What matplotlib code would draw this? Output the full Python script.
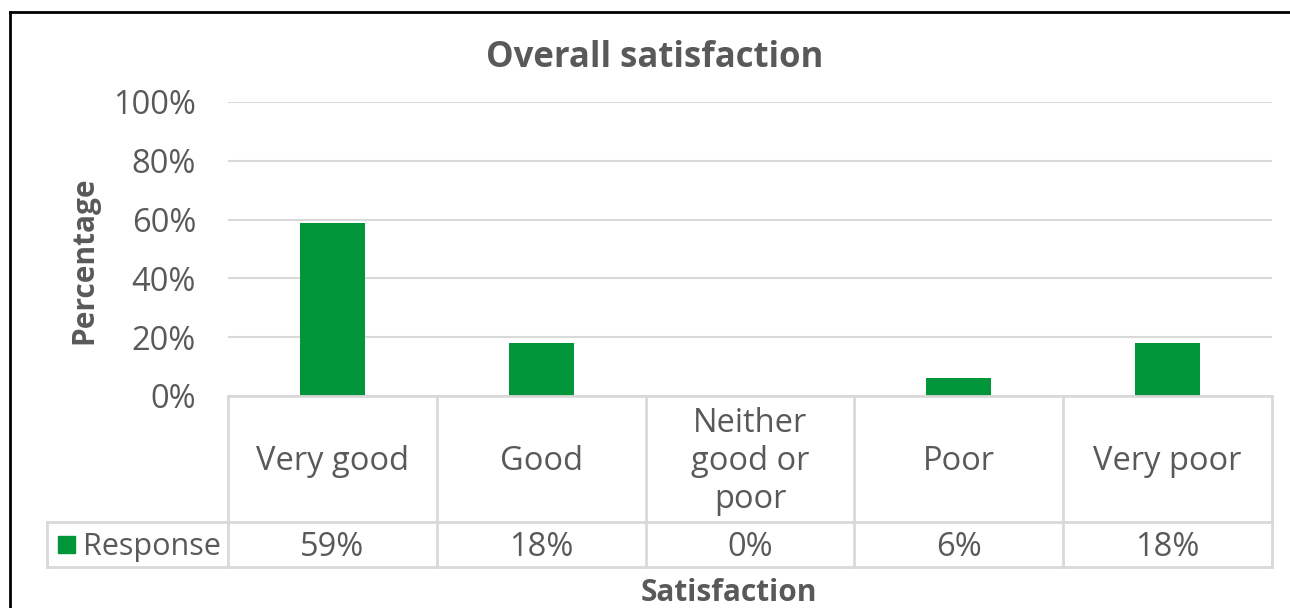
import matplotlib
matplotlib.use("Agg")
import matplotlib.pyplot as plt
import matplotlib.transforms as mtrans
from matplotlib.lines import Line2D
from matplotlib.patches import Rectangle

categories = ["Very good", "Good", "Neither\ngood or\npoor", "Poor", "Very poor"]
response = [59, 18, 0, 6, 18]
series_name = "Response"
yticks = [0, 20, 40, 60, 80, 100]

GREEN = "#009639"
TEXT = "#595959"
GRID = "#d9d9d9"

W, H = 1290, 608
plt.rcParams["font.family"] = ["Open Sans", "DejaVu Sans"]

fig = plt.figure(figsize=(W / 100, H / 100), dpi=100)


def fx(px):
    return px / W


def fy(py):
    return 1 - py / H


# plot area in pixel terms
left, right, top, base = 228, 1272, 102, 396
ax = fig.add_axes([fx(left), fy(base), fx(right - left), (base - top) / H])

x = list(range(len(categories)))
ax.bar(x, response, width=0.31, color=GREEN, zorder=3)
ax.set_xlim(-0.5, len(categories) - 0.5)
ax.set_ylim(0, 100)
ax.set_yticks(yticks)
ax.set_yticklabels([f"{v}%" for v in yticks])
ax.tick_params(axis="y", length=0, pad=23, labelsize=23.5, labelcolor=TEXT)
ax.set_xticks([])
ax.yaxis.grid(True, color=GRID, linewidth=1.5, zorder=0)
for s in ax.spines.values():
    s.set_visible(False)

# data table under the axis
row1, row2 = 522, 567
blend = mtrans.blended_transform_factory(ax.transData, fig.transFigure)
line_kw = dict(color=GRID, linewidth=2, transform=fig.transFigure)
fig.add_artist(Line2D([fx(left), fx(right)], [fy(base), fy(base)], **line_kw))
fig.add_artist(Line2D([fx(47), fx(right)], [fy(row1), fy(row1)], **line_kw))
fig.add_artist(Line2D([fx(47), fx(right)], [fy(row2), fy(row2)], **line_kw))
fig.add_artist(Line2D([fx(47), fx(47)], [fy(row1), fy(row2)], **line_kw))
for i in range(len(categories) + 1):
    fig.add_artist(Line2D([i - 0.5, i - 0.5], [fy(base), fy(row2)], color=GRID,
                          linewidth=2, transform=blend))

for i, (cat, val) in enumerate(zip(categories, response)):
    fig.text(i, fy(461), cat, transform=blend, ha="center",
             va="center", fontsize=23.5, color=TEXT, linespacing=1.2)
    fig.text(i, fy(547), f"{val}%", transform=blend, ha="center",
             va="center", fontsize=23.5, color=TEXT)

# legend key in the table
fig.add_artist(Rectangle((fx(58), fy(553)), fx(17), 17 / H, color=GREEN,
                         transform=fig.transFigure))
fig.text(fx(83), fy(547), series_name, ha="left", va="center",
         fontsize=22, color=TEXT)

fig.text(fx(655), fy(58), "Overall satisfaction", ha="center", va="center",
         fontsize=25, fontweight="bold", color=TEXT)
fig.text(fx(84), fy(260), "Percentage", ha="center", va="center",
         rotation=90, fontsize=21.5, fontweight="bold", color=TEXT)
fig.text(fx(729), fy(593), "Satisfaction", ha="center", va="center",
         fontsize=21.5, fontweight="bold", color=TEXT)

# chart frame (top and left edges)
fig.add_artist(Line2D([fx(10), fx(W + 5)], [fy(12), fy(12)], color="black",
                      linewidth=2, transform=fig.transFigure))
fig.add_artist(Line2D([fx(10), fx(10)], [fy(12), fy(H + 5)], color="black",
                      linewidth=2, transform=fig.transFigure))

fig.savefig("out.png", dpi=100)
